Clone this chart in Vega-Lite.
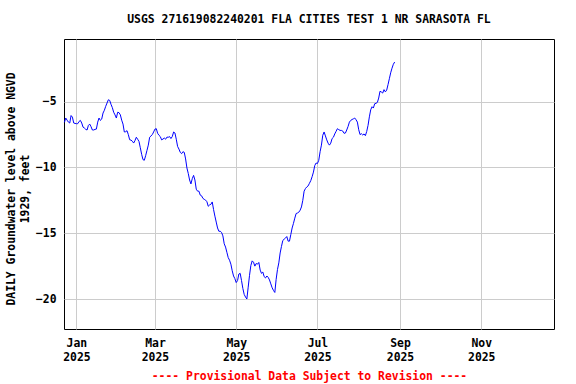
{
  "$schema": "https://vega.github.io/schema/vega-lite/v6.json",
  "width": 490,
  "height": 290,
  "autosize": {"type": "none"},
  "padding": {"left": 64, "top": 39, "right": 22, "bottom": 55},
  "background": "white",
  "config": {"view": {"stroke": "#000000", "strokeWidth": 1}, "font": "DejaVu Sans Mono"},
  "title": {"text": "USGS 271619082240201 FLA CITIES TEST 1 NR SARASOTA FL", "font": "DejaVu Sans Mono", "fontSize": 11.4, "fontWeight": "bold", "color": "#000000", "anchor": "middle", "frame": "group", "baseline": "alphabetic", "offset": 5},
  "data": {"values": [
    {"date": "2024-12-23", "level": -6.57}, {"date": "2024-12-24", "level": -6.24}, {"date": "2024-12-25", "level": -6.40}, {"date": "2024-12-26", "level": -6.55}, {"date": "2024-12-27", "level": -6.62}, {"date": "2024-12-28", "level": -6.05}, {"date": "2024-12-29", "level": -6.17}, {"date": "2024-12-30", "level": -6.62}, {"date": "2024-12-31", "level": -6.65},
    {"date": "2025-01-01", "level": -6.67}, {"date": "2025-01-02", "level": -6.67}, {"date": "2025-01-03", "level": -6.50}, {"date": "2025-01-04", "level": -6.42}, {"date": "2025-01-05", "level": -6.62}, {"date": "2025-01-06", "level": -6.93}, {"date": "2025-01-07", "level": -7.00}, {"date": "2025-01-08", "level": -7.10}, {"date": "2025-01-09", "level": -7.15}, {"date": "2025-01-10", "level": -6.80}, {"date": "2025-01-11", "level": -6.70}, {"date": "2025-01-12", "level": -6.90}, {"date": "2025-01-13", "level": -7.15}, {"date": "2025-01-14", "level": -7.15}, {"date": "2025-01-15", "level": -7.10}, {"date": "2025-01-16", "level": -7.08}, {"date": "2025-01-17", "level": -6.55}, {"date": "2025-01-18", "level": -6.24}, {"date": "2025-01-19", "level": -6.42}, {"date": "2025-01-20", "level": -6.32}, {"date": "2025-01-21", "level": -5.86}, {"date": "2025-01-22", "level": -5.65}, {"date": "2025-01-23", "level": -5.35}, {"date": "2025-01-24", "level": -5.10}, {"date": "2025-01-25", "level": -4.85}, {"date": "2025-01-26", "level": -4.90}, {"date": "2025-01-27", "level": -5.20}, {"date": "2025-01-28", "level": -5.45}, {"date": "2025-01-29", "level": -5.80}, {"date": "2025-01-30", "level": -6.00}, {"date": "2025-01-31", "level": -6.24},
    {"date": "2025-02-01", "level": -5.80}, {"date": "2025-02-02", "level": -5.83}, {"date": "2025-02-03", "level": -6.00}, {"date": "2025-02-04", "level": -6.40}, {"date": "2025-02-05", "level": -6.70}, {"date": "2025-02-06", "level": -7.30}, {"date": "2025-02-07", "level": -7.28}, {"date": "2025-02-08", "level": -7.20}, {"date": "2025-02-09", "level": -7.50}, {"date": "2025-02-10", "level": -7.89}, {"date": "2025-02-11", "level": -7.92}, {"date": "2025-02-12", "level": -8.00}, {"date": "2025-02-13", "level": -8.14}, {"date": "2025-02-14", "level": -7.95}, {"date": "2025-02-15", "level": -7.70}, {"date": "2025-02-16", "level": -7.85}, {"date": "2025-02-17", "level": -8.02}, {"date": "2025-02-18", "level": -8.50}, {"date": "2025-02-19", "level": -9.00}, {"date": "2025-02-20", "level": -9.40}, {"date": "2025-02-21", "level": -9.45}, {"date": "2025-02-22", "level": -9.10}, {"date": "2025-02-23", "level": -8.70}, {"date": "2025-02-24", "level": -8.30}, {"date": "2025-02-25", "level": -7.70}, {"date": "2025-02-26", "level": -7.60}, {"date": "2025-02-27", "level": -7.50}, {"date": "2025-02-28", "level": -7.30},
    {"date": "2025-03-01", "level": -7.08}, {"date": "2025-03-02", "level": -7.05}, {"date": "2025-03-03", "level": -7.40}, {"date": "2025-03-04", "level": -7.55}, {"date": "2025-03-05", "level": -7.65}, {"date": "2025-03-06", "level": -7.90}, {"date": "2025-03-07", "level": -7.84}, {"date": "2025-03-08", "level": -7.76}, {"date": "2025-03-09", "level": -7.85}, {"date": "2025-03-10", "level": -7.69}, {"date": "2025-03-11", "level": -7.70}, {"date": "2025-03-12", "level": -7.65}, {"date": "2025-03-13", "level": -7.80}, {"date": "2025-03-14", "level": -7.65}, {"date": "2025-03-15", "level": -7.30}, {"date": "2025-03-16", "level": -7.38}, {"date": "2025-03-17", "level": -7.85}, {"date": "2025-03-18", "level": -8.40}, {"date": "2025-03-19", "level": -8.60}, {"date": "2025-03-20", "level": -8.85}, {"date": "2025-03-21", "level": -8.95}, {"date": "2025-03-22", "level": -8.80}, {"date": "2025-03-23", "level": -8.85}, {"date": "2025-03-24", "level": -9.35}, {"date": "2025-03-25", "level": -10.04}, {"date": "2025-03-26", "level": -10.45}, {"date": "2025-03-27", "level": -10.95}, {"date": "2025-03-28", "level": -11.25}, {"date": "2025-03-29", "level": -10.85}, {"date": "2025-03-30", "level": -10.60}, {"date": "2025-03-31", "level": -10.95},
    {"date": "2025-04-01", "level": -11.65}, {"date": "2025-04-02", "level": -11.80}, {"date": "2025-04-03", "level": -11.80}, {"date": "2025-04-04", "level": -12.10}, {"date": "2025-04-05", "level": -12.15}, {"date": "2025-04-06", "level": -12.35}, {"date": "2025-04-07", "level": -12.42}, {"date": "2025-04-08", "level": -12.48}, {"date": "2025-04-09", "level": -12.60}, {"date": "2025-04-10", "level": -12.95}, {"date": "2025-04-11", "level": -12.85}, {"date": "2025-04-12", "level": -12.80}, {"date": "2025-04-13", "level": -12.62}, {"date": "2025-04-14", "level": -13.20}, {"date": "2025-04-15", "level": -13.70}, {"date": "2025-04-16", "level": -14.15}, {"date": "2025-04-17", "level": -14.60}, {"date": "2025-04-18", "level": -14.85}, {"date": "2025-04-19", "level": -14.85}, {"date": "2025-04-20", "level": -14.94}, {"date": "2025-04-21", "level": -15.20}, {"date": "2025-04-22", "level": -15.80}, {"date": "2025-04-23", "level": -16.05}, {"date": "2025-04-24", "level": -16.45}, {"date": "2025-04-25", "level": -16.85}, {"date": "2025-04-26", "level": -17.05}, {"date": "2025-04-27", "level": -17.35}, {"date": "2025-04-28", "level": -17.85}, {"date": "2025-04-29", "level": -18.25}, {"date": "2025-04-30", "level": -18.45},
    {"date": "2025-05-01", "level": -18.75}, {"date": "2025-05-02", "level": -18.60}, {"date": "2025-05-03", "level": -18.10}, {"date": "2025-05-04", "level": -18.05}, {"date": "2025-05-05", "level": -18.60}, {"date": "2025-05-06", "level": -19.20}, {"date": "2025-05-07", "level": -19.65}, {"date": "2025-05-08", "level": -19.85}, {"date": "2025-05-09", "level": -20.00}, {"date": "2025-05-10", "level": -19.10}, {"date": "2025-05-11", "level": -18.20}, {"date": "2025-05-12", "level": -17.45}, {"date": "2025-05-13", "level": -17.10}, {"date": "2025-05-14", "level": -17.20}, {"date": "2025-05-15", "level": -17.50}, {"date": "2025-05-16", "level": -17.30}, {"date": "2025-05-17", "level": -17.35}, {"date": "2025-05-18", "level": -17.22}, {"date": "2025-05-19", "level": -17.80}, {"date": "2025-05-20", "level": -18.05}, {"date": "2025-05-21", "level": -17.95}, {"date": "2025-05-22", "level": -18.30}, {"date": "2025-05-23", "level": -18.40}, {"date": "2025-05-24", "level": -18.25}, {"date": "2025-05-25", "level": -18.35}, {"date": "2025-05-26", "level": -18.55}, {"date": "2025-05-27", "level": -18.85}, {"date": "2025-05-28", "level": -19.15}, {"date": "2025-05-29", "level": -19.35}, {"date": "2025-05-30", "level": -19.50}, {"date": "2025-05-31", "level": -18.50},
    {"date": "2025-06-01", "level": -17.75}, {"date": "2025-06-02", "level": -17.25}, {"date": "2025-06-03", "level": -16.50}, {"date": "2025-06-04", "level": -16.00}, {"date": "2025-06-05", "level": -15.55}, {"date": "2025-06-06", "level": -15.45}, {"date": "2025-06-07", "level": -15.37}, {"date": "2025-06-08", "level": -15.25}, {"date": "2025-06-09", "level": -15.60}, {"date": "2025-06-10", "level": -15.60}, {"date": "2025-06-11", "level": -15.10}, {"date": "2025-06-12", "level": -14.60}, {"date": "2025-06-13", "level": -14.25}, {"date": "2025-06-14", "level": -13.85}, {"date": "2025-06-15", "level": -13.50}, {"date": "2025-06-16", "level": -13.46}, {"date": "2025-06-17", "level": -13.40}, {"date": "2025-06-18", "level": -13.25}, {"date": "2025-06-19", "level": -13.00}, {"date": "2025-06-20", "level": -12.50}, {"date": "2025-06-21", "level": -11.80}, {"date": "2025-06-22", "level": -11.60}, {"date": "2025-06-23", "level": -11.48}, {"date": "2025-06-24", "level": -11.40}, {"date": "2025-06-25", "level": -11.20}, {"date": "2025-06-26", "level": -11.00}, {"date": "2025-06-27", "level": -10.70}, {"date": "2025-06-28", "level": -10.35}, {"date": "2025-06-29", "level": -9.85}, {"date": "2025-06-30", "level": -9.66},
    {"date": "2025-07-01", "level": -9.70}, {"date": "2025-07-02", "level": -9.45}, {"date": "2025-07-03", "level": -8.80}, {"date": "2025-07-04", "level": -8.30}, {"date": "2025-07-05", "level": -7.55}, {"date": "2025-07-06", "level": -7.30}, {"date": "2025-07-07", "level": -7.60}, {"date": "2025-07-08", "level": -7.90}, {"date": "2025-07-09", "level": -8.15}, {"date": "2025-07-10", "level": -8.30}, {"date": "2025-07-11", "level": -8.15}, {"date": "2025-07-12", "level": -7.80}, {"date": "2025-07-13", "level": -7.70}, {"date": "2025-07-14", "level": -7.45}, {"date": "2025-07-15", "level": -7.25}, {"date": "2025-07-16", "level": -7.05}, {"date": "2025-07-17", "level": -7.12}, {"date": "2025-07-18", "level": -7.18}, {"date": "2025-07-19", "level": -7.18}, {"date": "2025-07-20", "level": -7.23}, {"date": "2025-07-21", "level": -7.40}, {"date": "2025-07-22", "level": -7.38}, {"date": "2025-07-23", "level": -7.15}, {"date": "2025-07-24", "level": -6.88}, {"date": "2025-07-25", "level": -6.55}, {"date": "2025-07-26", "level": -6.42}, {"date": "2025-07-27", "level": -6.35}, {"date": "2025-07-28", "level": -6.30}, {"date": "2025-07-29", "level": -6.24}, {"date": "2025-07-30", "level": -6.37}, {"date": "2025-07-31", "level": -6.55},
    {"date": "2025-08-01", "level": -7.13}, {"date": "2025-08-02", "level": -7.50}, {"date": "2025-08-03", "level": -7.43}, {"date": "2025-08-04", "level": -7.53}, {"date": "2025-08-05", "level": -7.45}, {"date": "2025-08-06", "level": -7.58}, {"date": "2025-08-07", "level": -7.26}, {"date": "2025-08-08", "level": -6.80}, {"date": "2025-08-09", "level": -6.15}, {"date": "2025-08-10", "level": -5.61}, {"date": "2025-08-11", "level": -5.38}, {"date": "2025-08-12", "level": -5.48}, {"date": "2025-08-13", "level": -5.15}, {"date": "2025-08-14", "level": -5.12}, {"date": "2025-08-15", "level": -5.05}, {"date": "2025-08-16", "level": -4.72}, {"date": "2025-08-17", "level": -4.20}, {"date": "2025-08-18", "level": -4.26}, {"date": "2025-08-19", "level": -4.34}, {"date": "2025-08-20", "level": -4.08}, {"date": "2025-08-21", "level": -4.25}, {"date": "2025-08-22", "level": -4.12}, {"date": "2025-08-23", "level": -3.70}, {"date": "2025-08-24", "level": -3.25}, {"date": "2025-08-25", "level": -2.80}, {"date": "2025-08-26", "level": -2.45}, {"date": "2025-08-27", "level": -2.15}, {"date": "2025-08-28", "level": -1.98}
  ]},
  "mark": {"type": "line", "color": "#0000ff", "strokeWidth": 1},
  "encoding": {
    "x": {
      "field": "date", "type": "temporal",
      "scale": {"type": "utc", "domain": [
        {"year": 2024, "month": 12, "date": 22, "hours": 16, "minutes": 34, "utc": true},
        {"year": 2025, "month": 12, "date": 25, "hours": 15, "minutes": 21, "utc": true}
      ]},
      "axis": {
        "values": [
          {"year": 2025, "month": 1, "date": 1, "utc": true},
          {"year": 2025, "month": 3, "date": 1, "utc": true},
          {"year": 2025, "month": 5, "date": 1, "utc": true},
          {"year": 2025, "month": 7, "date": 1, "utc": true},
          {"year": 2025, "month": 9, "date": 1, "utc": true},
          {"year": 2025, "month": 11, "date": 1, "utc": true}
        ],
        "labelExpr": "[utcFormat(datum.value, '%b'), utcFormat(datum.value, '%Y')]",
        "grid": true, "gridColor": "#cccccc", "gridWidth": 1,
        "domain": false, "ticks": false, "tickSize": 0,
        "labelPadding": 8.5, "labelFont": "DejaVu Sans Mono", "labelFontWeight": "bold", "labelFontSize": 11.4, "labelColor": "#000000",
        "labelLineHeight": 13.6, "labelBaseline": "top", "labelFlush": false, "labelOverlap": false,
        "title": "---- Provisional Data Subject to Revision ----",
        "titleColor": "#ff0000", "titleFont": "DejaVu Sans Mono", "titleFontWeight": "bold", "titleFontSize": 11.4,
        "titleX": 245, "titleY": 50, "titleAlign": "center", "titleBaseline": "alphabetic"
      }
    },
    "y": {
      "field": "level", "type": "quantitative",
      "scale": {"domain": [-22.28, -0.23], "nice": false, "zero": false},
      "axis": {
        "values": [-5, -10, -15, -20],
        "grid": true, "gridColor": "#cccccc", "gridWidth": 1,
        "domain": false, "ticks": false, "tickSize": 0,
        "labelPadding": 8, "labelFont": "DejaVu Sans Mono", "labelFontWeight": "bold", "labelFontSize": 11.4, "labelColor": "#000000",
        "title": ["DAILY Groundwater level above NGVD", "1929, feet"],
        "titleColor": "#000000", "titleFont": "DejaVu Sans Mono", "titleFontWeight": "bold", "titleFontSize": 11.4,
        "titleX": -49.5, "titleY": 149.5, "titleAngle": -90, "titleAlign": "center", "titleBaseline": "alphabetic", "titleLineHeight": 14
      }
    }
  }
}
